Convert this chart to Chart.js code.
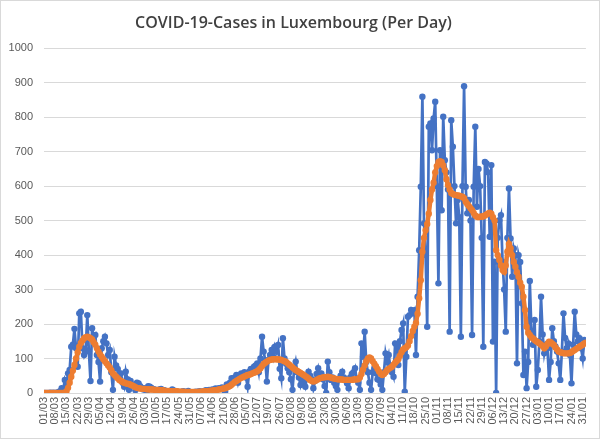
<!DOCTYPE html>
<html>
<head>
<meta charset="utf-8">
<script src="https://cdn.jsdelivr.net/npm/chart.js@4.4.1/dist/chart.umd.min.js"></script>
<style>
  html, body { margin: 0; padding: 0; background: #fff; }
  #wrap { width: 600px; height: 439px; position: relative; }
</style>
</head>
<body>
<div id="wrap"><canvas id="covidChart"></canvas></div>
<script>
// weekly tick labels (every 7th day, starting 01/03/2020)
const tickLabels = [
  "01/03", "08/03", "15/03", "22/03", "29/03", "05/04", "12/04", "19/04", "26/04",
  "03/05", "10/05", "17/05", "24/05", "31/05", "07/06", "14/06", "21/06", "28/06",
  "05/07", "12/07", "19/07", "26/07", "02/08", "09/08", "16/08", "23/08", "30/08",
  "06/09", "13/09", "20/09", "27/09", "04/10", "11/10", "18/10", "25/10", "01/11",
  "08/11", "15/11", "22/11", "29/11", "06/12", "13/12", "20/12", "27/12", "03/01",
  "10/01", "17/01", "24/01", "31/01"
];

// new cases per day, one row per week (Sunday..Saturday)
const dailyCases = [
  0, 0, 0, 0, 1, 0, 1,
  0, 1, 2, 5, 14, 10, 38,
  26, 57, 67, 134, 140, 186, 130,
  76, 231, 236, 130, 110, 125, 226,
  120, 35, 188, 160, 168, 110, 90,
  33, 130, 150, 163, 144, 110, 125,
  60, 9, 105, 80, 70, 57, 57,
  30, 18, 62, 40, 9, 35, 25,
  20, 8, 30, 28, 20, 15, 10,
  14, 3, 20, 18, 15, 12, 10,
  8, 2, 10, 12, 9, 8, 6,
  4, 1, 5, 10, 7, 6, 4,
  3, 1, 4, 5, 3, 2, 6,
  1, 0, 2, 3, 4, 3, 5,
  4, 1, 6, 8, 5, 9, 7,
  10, 2, 13, 10, 14, 12, 16,
  9, 4, 25, 20, 30, 43, 38,
  45, 52, 30, 48, 57, 55, 60,
  45, 18, 62, 70, 65, 76, 80,
  86, 60, 100, 163, 120, 95, 33,
  95, 110, 125, 105, 134, 120, 139,
  70, 43, 159, 100, 85, 72, 60,
  40, 9, 70, 91, 60, 45, 23,
  40, 30, 18, 45, 62, 50, 40,
  14, 35, 55, 72, 50, 57, 40,
  20, 0, 91, 60, 38, 45, 30,
  20, 9, 40, 50, 62, 45, 40,
  28, 14, 45, 55, 60, 72, 40,
  30, 9, 144, 105, 178, 90, 60,
  30, 9, 60, 72, 57, 40, 38,
  25, 9, 60, 115, 90, 110, 76,
  60, 47, 144, 139, 81, 150, 183,
  202, 4, 105, 221, 226, 241, 231,
  240, 110, 279, 414, 598, 859, 492,
  400, 192, 772, 782, 704, 796, 845,
  600, 318, 704, 530, 801, 675, 640,
  590, 178, 791, 714, 600, 492, 560,
  510, 163, 600, 890, 598, 521, 560,
  500, 168, 598, 772, 540, 650, 600,
  450, 134, 670, 666, 640, 453, 661,
  149, 381, 0, 450, 501, 516, 381,
  300, 178, 450, 593, 448, 337, 419,
  400, 86, 400, 380, 260, 52, 120,
  14, 90, 325, 180, 140, 212, 18,
  67, 150, 279, 170, 115, 140, 130,
  38, 90, 188, 150, 135, 120, 86,
  38, 120, 231, 160, 130, 144, 110,
  28, 140, 236, 170, 150, 159, 130,
  100, 154, 150
];

// smoothed (7-day) curve
const averageCases = [
  0, 0, 0, 0, 0, 0, 0,
  0, 0, 0, 0, 0, 0, 0,
  5, 15, 30, 47, 65, 81, 100,
  118, 134, 145, 152, 159, 162, 163,
  162, 159, 155, 147, 140, 130, 120,
  112, 105, 98, 92, 86, 80, 74,
  66, 57, 52, 47, 43, 38, 35,
  32, 30, 28, 27, 26, 24, 22,
  20, 17, 15, 14, 13, 12, 12,
  12, 11, 11, 10, 10, 10, 9,
  9, 9, 9, 8, 8, 7, 6,
  6, 6, 5, 5, 5, 5, 5,
  4, 4, 4, 4, 3, 3, 3,
  3, 3, 3, 3, 3, 3, 4,
  4, 4, 5, 5, 5, 6, 7,
  7, 8, 8, 9, 10, 11, 12,
  13, 14, 16, 18, 20, 24, 28,
  32, 35, 38, 41, 44, 46, 48,
  50, 52, 53, 55, 57, 59, 61,
  63, 67, 72, 78, 84, 88, 91,
  94, 96, 97, 98, 98, 98, 97,
  97, 96, 94, 92, 90, 86, 82,
  78, 74, 70, 67, 64, 61, 58,
  55, 52, 49, 46, 42, 38, 35,
  33, 35, 38, 40, 43, 44, 45,
  46, 46, 47, 46, 45, 43, 42,
  41, 40, 40, 39, 39, 38, 38,
  38, 38, 38, 38, 39, 39, 40,
  40, 45, 55, 68, 80, 92, 100,
  103, 100, 92, 85, 78, 70, 62,
  56, 52, 55, 60, 66, 70, 73,
  76, 82, 88, 93, 98, 108, 118,
  126, 130, 133, 138, 150, 165, 180,
  192, 203, 230, 275, 327, 410, 450,
  472, 490, 520, 560, 590, 610, 640,
  658, 670, 672, 670, 660, 646, 620,
  603, 590, 580, 577, 575, 574, 573,
  572, 570, 569, 565, 555, 548, 542,
  536, 530, 522, 515, 511, 510, 511,
  512, 512, 515, 518, 521, 523, 520,
  510, 500, 414, 400, 386, 370, 357,
  352, 370, 410, 432, 420, 400, 380,
  366, 350, 337, 320, 308, 279, 241,
  192, 175, 168, 162, 158, 154, 150,
  147, 144, 140, 136, 130, 135, 142,
  149, 147, 143, 139, 132, 126, 120,
  118, 117, 115, 115, 115, 115, 116,
  118, 122, 125, 128, 131, 134, 137,
  140, 144, 146
];

const BLUE = "#4472C4";
const ORANGE = "#ED7D31";
const TEXT = "#595959";
const GRID = "#d9d9d9";

function toPoints(values) {
  return values.map((v, i) => ({ x: i, y: v }));
}

const frame = {
  id: "frame",
  beforeDraw(chart) {
    const { ctx, width, height } = chart;
    ctx.save();
    ctx.fillStyle = "#fff";
    ctx.fillRect(0, 0, width, height);
    ctx.strokeStyle = GRID;
    ctx.lineWidth = 1;
    ctx.strokeRect(0.5, 0.5, width - 1, height - 1);
    ctx.restore();
  }
};

new Chart(document.getElementById("covidChart"), {
  type: "line",
  data: {
    datasets: [
      {
        label: "7-day average",
        data: toPoints(averageCases),
        borderColor: ORANGE,
        backgroundColor: ORANGE,
        borderWidth: 4.5,
        pointRadius: 3.2,
        pointBorderWidth: 0,
        pointBackgroundColor: ORANGE,
        tension: 0,
        order: 0
      },
      {
        label: "Cases per day",
        data: toPoints(dailyCases),
        borderColor: BLUE,
        backgroundColor: BLUE,
        borderWidth: 2.7,
        pointRadius: 3.2,
        pointBorderWidth: 0,
        pointBackgroundColor: BLUE,
        tension: 0,
        order: 1
      }
    ]
  },
  options: {
    responsive: true,
    maintainAspectRatio: false,
    animation: false,
    layout: { padding: { left: 0, right: 13, top: 0, bottom: 0 } },
    plugins: {
      legend: { display: false },
      tooltip: { enabled: false },
      title: {
        display: true,
        text: "COVID-19-Cases in Luxembourg (Per Day)",
        color: "#404040",
        font: { family: "Open Sans", size: 16, weight: "600" },
        padding: { top: 14, bottom: 15 }
      }
    },
    scales: {
      x: {
        type: "linear",
        min: 0,
        max: dailyCases.length - 1,
        grid: { display: false, drawTicks: false },
        border: { display: false },
        afterFit: (scale) => { scale.height = 46; },
        ticks: {
          stepSize: 7,
          includeBounds: false,
          autoSkip: false,
          maxTicksLimit: 200,
          maxRotation: 90,
          minRotation: 90,
          padding: 4,
          color: TEXT,
          font: { family: "Liberation Sans", size: 11 },
          callback: (value) => tickLabels[value / 7] ?? ""
        }
      },
      y: {
        min: 0,
        max: 1000,
        grid: { color: GRID, drawTicks: false },
        border: { display: false },
        afterFit: (scale) => { scale.width = 44; },
        ticks: {
          stepSize: 100,
          padding: 11,
          color: TEXT,
          font: { family: "Liberation Sans", size: 11 },
          callback: (value) => String(value)
        }
      }
    }
  },
  plugins: [frame]
});
</script>
</body>
</html>
